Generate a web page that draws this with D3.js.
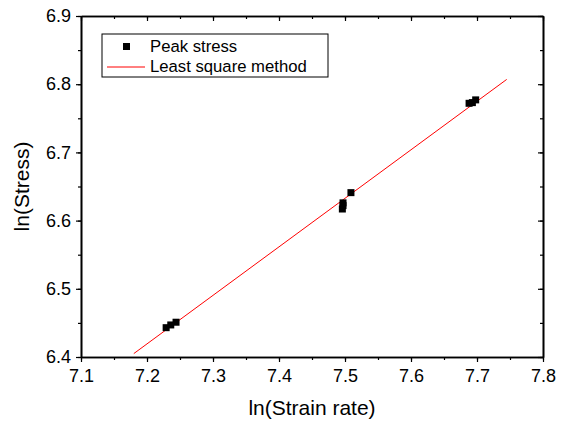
<!DOCTYPE html>
<html><head><meta charset="utf-8">
<script src="https://cdn.jsdelivr.net/npm/d3@7"></script>
<style>body{margin:0;background:#fff}svg{display:block}text{font-family:"Liberation Sans",Arial,sans-serif}</style>
</head><body>
<script>
const strainX = [7.229, 7.236, 7.244, 7.496, 7.497, 7.497, 7.509, 7.688, 7.693, 7.698];
const stressY = [6.443, 6.447, 6.451, 6.617, 6.622, 6.626, 6.641, 6.772, 6.773, 6.777];
const fitX = [7.18, 7.745];
const fitY = [6.405, 6.807];
const xTicks = [7.1, 7.2, 7.3, 7.4, 7.5, 7.6, 7.7, 7.8];
const yTicks = [6.4, 6.5, 6.6, 6.7, 6.8, 6.9];

const W = 565, H = 425;
const L = 81, R = 543, T = 16, B = 357;
const svg = d3.select("body").append("svg").attr("width", W).attr("height", H);
const x = d3.scaleLinear().domain([7.1, 7.8]).range([L, R]);
const y = d3.scaleLinear().domain([6.4, 6.9]).range([B, T]);

const xMinor = d3.range(0, 15).map(i => 7.1 + i * 0.05);
const yMinor = d3.range(0, 11).map(i => 6.4 + i * 0.05);

function axisStyle(g) {
  g.selectAll("path.domain").attr("stroke", "#000").attr("stroke-width", 1.6);
  g.selectAll(".tick line").attr("stroke", "#000").attr("stroke-width", 1.2);
  g.selectAll("text").attr("font-size", 18).attr("fill", "#000");
}
// minor ticks
svg.append("g").attr("transform", `translate(0,${B})`)
  .call(d3.axisBottom(x).tickValues(xMinor).tickSize(3).tickFormat("").tickSizeOuter(0)).call(axisStyle);
svg.append("g").attr("transform", `translate(0,${T})`)
  .call(d3.axisBottom(x).tickValues(xMinor).tickSize(3).tickFormat("").tickSizeOuter(0)).call(axisStyle);
svg.append("g").attr("transform", `translate(${L},0)`)
  .call(d3.axisLeft(y).tickValues(yMinor).tickSize(3).tickFormat("").tickSizeOuter(0)).call(axisStyle);
svg.append("g").attr("transform", `translate(${R},0)`)
  .call(d3.axisLeft(y).tickValues(yMinor).tickSize(3).tickFormat("").tickSizeOuter(0)).call(axisStyle);
// major
svg.append("g").attr("transform", `translate(0,${B})`)
  .call(d3.axisBottom(x).tickValues(xTicks).tickSize(5).tickPadding(7).tickFormat(d3.format(".1f")).tickSizeOuter(0)).call(axisStyle);
svg.append("g").attr("transform", `translate(0,${T})`)
  .call(d3.axisBottom(x).tickValues(xTicks).tickSize(5).tickFormat("").tickSizeOuter(0)).call(axisStyle);
svg.append("g").attr("transform", `translate(${L},0)`)
  .call(d3.axisLeft(y).tickValues(yTicks).tickSize(5).tickPadding(5).tickFormat(d3.format(".1f")).tickSizeOuter(0)).call(axisStyle);
svg.append("g").attr("transform", `translate(${R},0)`)
  .call(d3.axisLeft(y).tickValues(yTicks).tickSize(5).tickFormat("").tickSizeOuter(0)).call(axisStyle);

// fit line
svg.append("line")
  .attr("x1", x(fitX[0])).attr("y1", y(fitY[0]))
  .attr("x2", x(fitX[1])).attr("y2", y(fitY[1]))
  .attr("stroke", "#ff0000").attr("stroke-width", 1);

// points
const s = 7;
svg.append("g").selectAll("rect").data(strainX.map((v, i) => [v, stressY[i]])).join("rect")
  .attr("x", d => x(d[0]) - s / 2).attr("y", d => y(d[1]) - s / 2)
  .attr("width", s).attr("height", s).attr("fill", "#000");

// legend
const lg = svg.append("g");
lg.append("rect").attr("x", 102).attr("y", 34).attr("width", 226).attr("height", 43)
  .attr("fill", "#fff").attr("stroke", "#000").attr("stroke-width", 1);
lg.append("rect").attr("x", 123).attr("y", 43).attr("width", 7).attr("height", 7).attr("fill", "#000");
lg.append("text").attr("x", 150).attr("y", 52).attr("font-size", 16.7).text("Peak stress");
lg.append("line").attr("x1", 107).attr("x2", 145).attr("y1", 67).attr("y2", 67)
  .attr("stroke", "#ff0000").attr("stroke-width", 1);
lg.append("text").attr("x", 150).attr("y", 72).attr("font-size", 16.7).text("Least square method");

// axis titles
svg.append("text").attr("x", (L + R) / 2).attr("y", 415).attr("text-anchor", "middle")
  .attr("font-size", 21).text("ln(Strain rate)");
svg.append("text").attr("transform", `translate(29,${(T + B) / 2}) rotate(-90)`)
  .attr("text-anchor", "middle").attr("font-size", 21).text("ln(Stress)");
</script>
</body></html>
